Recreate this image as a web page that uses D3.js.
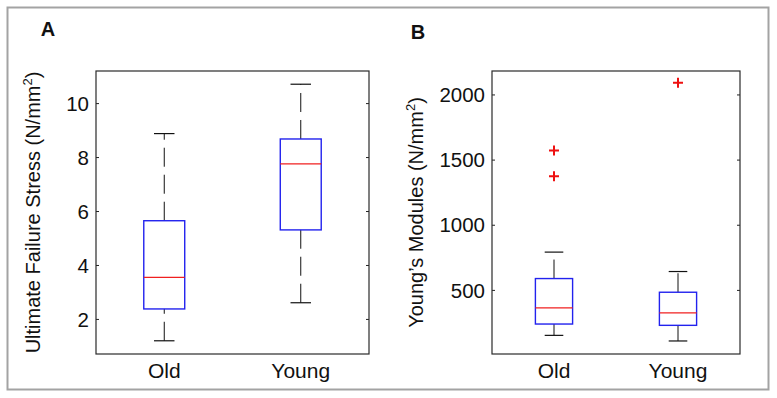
<!DOCTYPE html>
<html lang="en">
  <head>
    <meta charset="utf-8" />
    <title>Ultimate failure stress and Young's modulus, old vs young</title>
    <script src="https://d3js.org/d3.v7.min.js"></script>
    <style>
      body {
        margin: 0;
        background: white;
      }
      text {
        font-family: "Liberation Sans", Arial, sans-serif;
        fill: #111;
      }
      .tick line {
        stroke: #222;
      }
      .tick text {
        font-size: 20.5px;
      }
      .panel-label {
        font-size: 20px;
        font-weight: bold;
      }
      .axis-title {
        font-size: 20px;
      }
      .group-label {
        font-size: 21px;
      }
    </style>
  </head>
  <body>
    <svg width="777" height="398"></svg>
    <script type="text/javascript">
      const width = 777;
      const height = 398;

      const groups = ["Old", "Young"];

      // [lower whisker, Q1, median, Q3, upper whisker]
      const stressStats = [
        [1.19, 2.37, 3.54, 5.64, 8.87],
        [2.6, 5.3, 7.75, 8.67, 10.7],
      ];
      const stressOutliers = [[], []];
      const stressTicks = [2, 4, 6, 8, 10];

      const modulusStats = [
        [151, 238, 362, 587, 790],
        [108, 228, 323, 482, 641],
      ];
      const modulusOutliers = [[1569, 1372], [2090]];
      const modulusTicks = [500, 1000, 1500, 2000];

      const panels = [
        {
          label: "A",
          title: "Ultimate Failure Stress (N/mm",
          stats: stressStats,
          outliers: stressOutliers,
          ticks: stressTicks,
          domain: [0.7, 11.19],
          left: 96,
          right: 369,
          labelX: 48,
          labelY: 36,
          titleX: 40,
        },
        {
          label: "B",
          title: "Young\u2019s Modules (N/mm",
          stats: modulusStats,
          outliers: modulusOutliers,
          ticks: modulusTicks,
          domain: [8, 2180],
          left: 492,
          right: 740,
          labelX: 418,
          labelY: 39,
          titleX: 423,
        },
      ];

      const plotTop = 71;
      const plotBottom = 354;
      const boxWidth = 0.3;
      const capWidth = 0.15;
      const dash = "19,8";

      const svg = d3.select("svg");

      // outer grey frame
      svg
        .append("rect")
        .attr("x", 7.5)
        .attr("y", 7.5)
        .attr("width", 761)
        .attr("height", 382)
        .attr("fill", "none")
        .attr("stroke", "#a3a3a3")
        .attr("stroke-width", 2);

      panels.forEach((p) => {
        const x = d3.scaleLinear().domain([0.5, 2.5]).range([p.left, p.right]);
        const y = d3.scaleLinear().domain(p.domain).range([plotBottom, plotTop]);
        const g = svg.append("g");

        g.append("g")
          .attr("transform", `translate(${p.left},0)`)
          .call(
            d3
              .axisLeft(y)
              .tickValues(p.ticks)
              .tickFormat(d3.format("d"))
              .tickSize(-3)
              .tickPadding(7)
          )
          .call((a) => a.select(".domain").remove());
        g.append("g")
          .attr("transform", `translate(${p.right},0)`)
          .call(d3.axisRight(y).tickValues(p.ticks).tickSize(-3).tickFormat(""))
          .call((a) => a.select(".domain").remove());

        g.selectAll(".tick text").attr("fill", "#111").attr("dy", "0.35em");

        // plot frame
        g.append("rect")
          .attr("x", p.left)
          .attr("y", plotTop)
          .attr("width", p.right - p.left)
          .attr("height", plotBottom - plotTop)
          .attr("fill", "none")
          .attr("stroke", "#2a2a2a")
          .attr("stroke-width", 1.2);

        const boxes = g
          .selectAll(".box")
          .data(p.stats)
          .join("g")
          .attr("class", "box");

        // upper whisker drawn from Q3 out, lower from the whisker end in
        boxes
          .append("line")
          .attr("x1", (d, i) => x(i + 1))
          .attr("x2", (d, i) => x(i + 1))
          .attr("y1", (d) => y(d[3]))
          .attr("y2", (d) => y(d[4]))
          .attr("stroke", "#111")
          .attr("stroke-dasharray", dash);
        boxes
          .append("line")
          .attr("x1", (d, i) => x(i + 1))
          .attr("x2", (d, i) => x(i + 1))
          .attr("y1", (d) => y(d[0]))
          .attr("y2", (d) => y(d[1]))
          .attr("stroke", "#111")
          .attr("stroke-dasharray", dash);

        [0, 4].forEach((k) => {
          boxes
            .append("line")
            .attr("x1", (d, i) => x(i + 1 - capWidth / 2))
            .attr("x2", (d, i) => x(i + 1 + capWidth / 2))
            .attr("y1", (d) => y(d[k]))
            .attr("y2", (d) => y(d[k]))
            .attr("stroke", "#111")
            .attr("stroke-width", 1.2);
        });

        boxes
          .append("rect")
          .attr("x", (d, i) => x(i + 1 - boxWidth / 2))
          .attr("width", (d, i) => x(i + 1 + boxWidth / 2) - x(i + 1 - boxWidth / 2))
          .attr("y", (d) => y(d[3]))
          .attr("height", (d) => y(d[1]) - y(d[3]))
          .attr("fill", "none")
          .attr("stroke", "#2222ee")
          .attr("stroke-width", 1.4);

        boxes
          .append("line")
          .attr("x1", (d, i) => x(i + 1 - boxWidth / 2))
          .attr("x2", (d, i) => x(i + 1 + boxWidth / 2))
          .attr("y1", (d) => y(d[2]))
          .attr("y2", (d) => y(d[2]))
          .attr("stroke", "#f02020")
          .attr("stroke-width", 1.2);

        // outliers as red plus markers
        const pts = p.outliers.flatMap((vals, i) => vals.map((v) => ({ i, v })));
        g.selectAll(".outlier")
          .data(pts)
          .join("path")
          .attr("class", "outlier")
          .attr("d", (d) => {
            const cx = x(d.i + 1);
            const cy = y(d.v);
            return `M${cx - 5},${cy}H${cx + 5}M${cx},${cy - 5}V${cy + 5}`;
          })
          .attr("stroke", "#ee1111")
          .attr("stroke-width", 2)
          .attr("fill", "none");

        g.selectAll(".group-label")
          .data(groups)
          .join("text")
          .attr("class", "group-label")
          .attr("x", (d, i) => x(i + 1))
          .attr("y", 378)
          .attr("text-anchor", "middle")
          .text((d) => d);

        g.append("text")
          .attr("class", "panel-label")
          .attr("x", p.labelX)
          .attr("y", p.labelY)
          .attr("text-anchor", "middle")
          .text(p.label);

        const t = g
          .append("text")
          .attr("class", "axis-title")
          .attr("transform", `translate(${p.titleX},${(plotTop + plotBottom) / 2}) rotate(-90)`)
          .attr("text-anchor", "middle");
        t.append("tspan").text(p.title);
        t.append("tspan").attr("font-size", "13px").attr("dy", -8).text("2");
        t.append("tspan").attr("dy", 8).text(")");
      });
    </script>
  </body>
</html>
